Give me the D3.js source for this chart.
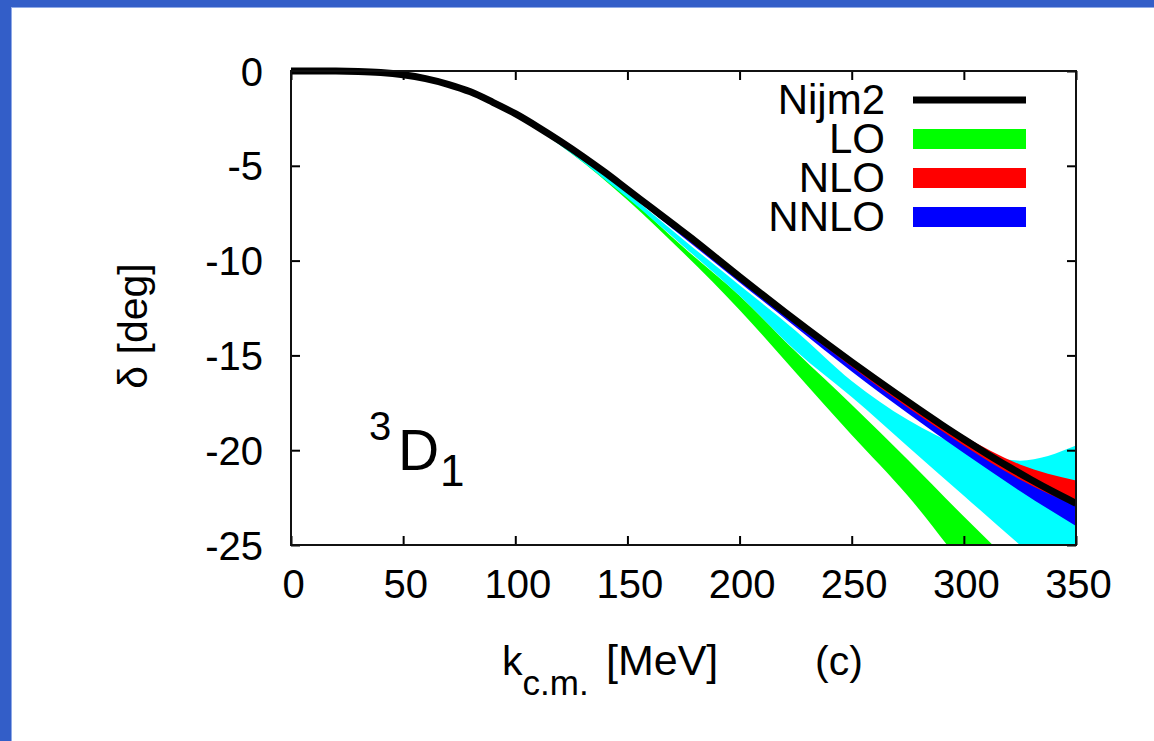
<!DOCTYPE html>
<html>
<head>
<meta charset="utf-8">
<script src="https://cdn.jsdelivr.net/npm/d3@7"></script>
<style>
  html, body { margin: 0; padding: 0; background: #fff; }
  svg { display: block; }
  text { font-family: "Liberation Sans", Arial, sans-serif; fill: #000; }
</style>
</head>
<body>
<svg id="chart" width="1154" height="741"></svg>
<script>
// Momentum grid (MeV) for the theory bands
const kBand = [0, 25, 50, 75, 100, 125, 150, 175, 200, 225, 250, 275, 300, 325, 350];

// LO band (deg)
const loLower = [0, 0, -0.22, -0.95, -2.35, -4.35, -6.8, -9.6, -12.6, -15.9, -19.2, -22.4, -26.1, -29.5, -32.9];
const loUpper = [0, 0, -0.2, -0.9, -2.28, -4.2, -6.6, -9.3, -11.85, -14.8, -17.6, -20.5, -23.5, -26.4, -29.3];

// Extra band (cyan)
const cyanLower = [0, 0, -0.22, -0.95, -2.35, -4.35, -6.7, -9.25, -11.85, -14.75, -17.2, -19.8, -22.4, -25.0, -27.6];
const cyanUpper = [0, 0, -0.2, -0.92, -2.3, -4.2, -6.45, -8.9, -11.3, -13.7, -16.35, -18.4, -19.85, -20.55, -19.75];

// NNLO band
const nnloLower = [0, 0, -0.22, -0.93, -2.33, -4.25, -6.42, -8.78, -11.15, -13.5, -15.85, -18.05, -20.15, -22.15, -24.0];
const nnloUpper = [0, 0, -0.2, -0.88, -2.25, -4.1, -6.25, -8.55, -10.9, -13.2, -15.4, -17.5, -19.5, -21.25, -22.9];

// NLO band
const nloLower = [0, 0, -0.22, -0.92, -2.3, -4.2, -6.35, -8.7, -11.05, -13.35, -15.6, -17.75, -19.75, -21.55, -22.95];
const nloUpper = [0, 0, -0.18, -0.85, -2.2, -4.05, -6.15, -8.45, -10.8, -13.05, -15.25, -17.3, -19.25, -20.75, -21.6];

// Nijm2 partial-wave analysis
const kNijm = [0, 10, 20, 30, 40, 50, 60, 70, 80, 90, 100, 110, 120, 130, 140, 150, 160, 170,
               180, 190, 200, 210, 220, 230, 240, 250, 260, 270, 280, 290, 300, 310, 320, 330, 340, 350];
const nijm2 = [0, 0, 0, -0.02, -0.08, -0.2, -0.4, -0.7, -1.1, -1.65, -2.25, -2.95, -3.7, -4.5, -5.35,
               -6.25, -7.15, -8.05, -8.95, -9.9, -10.85, -11.78, -12.7, -13.6, -14.48, -15.35, -16.2,
               -17.03, -17.85, -18.65, -19.42, -20.17, -20.88, -21.56, -22.2, -22.8];

// Axis ticks
const xTicks = [0, 50, 100, 150, 200, 250, 300, 350];
const yTicks = [0, -5, -10, -15, -20, -25];
const yTickLabels = ["0", "-5", "-10", "-15", "-20", "-25"];

// Legend entries
const legendNames = ["Nijm2", "LO", "NLO", "NNLO"];
const legendColors = ["#000000", "#00ff00", "#ff0000", "#0000ff"];

const svg = d3.select("#chart");

// Slide border
svg.append("rect").attr("x", 0).attr("y", 0).attr("width", 1154).attr("height", 741).attr("fill", "#fff");
svg.append("rect").attr("x", 0).attr("y", 0).attr("width", 11).attr("height", 741).attr("fill", "#335ec8");
svg.append("rect").attr("x", 0).attr("y", 0).attr("width", 1154).attr("height", 7).attr("fill", "#335ec8");
svg.append("rect").attr("x", 11).attr("y", 7).attr("width", 1).attr("height", 734).attr("fill", "#8fa9e6");
svg.append("rect").attr("x", 11).attr("y", 7).attr("width", 1143).attr("height", 1).attr("fill", "#8fa9e6");

const x = d3.scaleLinear().domain([0, 350]).range([291, 1076]);
const y = d3.scaleLinear().domain([-25, 0]).range([545, 71]);

svg.append("defs").append("clipPath").attr("id", "plotClip")
  .append("rect")
  .attr("x", x(0)).attr("y", y(0) - 6)
  .attr("width", x(350) - x(0)).attr("height", y(-25) - y(0) + 6);

const plot = svg.append("g").attr("clip-path", "url(#plotClip)");

function band(lower, upper) {
  return kBand.map((k, i) => ({ k, lo: lower[i], hi: upper[i] }));
}
const area = d3.area()
  .x(d => x(d.k))
  .y0(d => y(d.lo))
  .y1(d => y(d.hi))
  .curve(d3.curveMonotoneX);

const bands = [
  { data: band(loLower, loUpper), color: "#00ff00" },
  { data: band(cyanLower, cyanUpper), color: "#00ffff" },
  { data: band(nnloLower, nnloUpper), color: "#0000ff" },
  { data: band(nloLower, nloUpper), color: "#ff0000" }
];
plot.selectAll("path.band").data(bands).join("path")
  .attr("class", "band")
  .attr("d", d => area(d.data))
  .attr("fill", d => d.color)
  .attr("stroke", "none");

const line = d3.line()
  .x(d => x(d.k))
  .y(d => y(d.v))
  .curve(d3.curveMonotoneX);
plot.append("path")
  .attr("d", line(kNijm.map((k, i) => ({ k, v: nijm2[i] }))))
  .attr("fill", "none")
  .attr("stroke", "#000")
  .attr("stroke-width", 7);

// Axes with inward ticks on all four sides
const tick = 9;
const gB = svg.append("g").attr("transform", `translate(0,${y(-25)})`)
  .call(d3.axisBottom(x).tickValues(xTicks).tickSize(-tick).tickPadding(0).tickFormat(d3.format("d")));
gB.selectAll("text").attr("y", 53).attr("dy", null).attr("dx", 2)
  .style("font-size", "40px").style("font-family", "'Liberation Sans', Arial, sans-serif");

const gT = svg.append("g").attr("transform", `translate(0,${y(0)})`)
  .call(d3.axisTop(x).tickValues(xTicks).tickSize(-tick).tickFormat(() => ""));

const gL = svg.append("g").attr("transform", `translate(${x(0)},0)`)
  .call(d3.axisLeft(y).tickValues(yTicks).tickSize(-tick).tickPadding(0)
    .tickFormat((d, i) => yTickLabels[i]));
gL.selectAll("text").attr("x", -28).attr("dy", "14")
  .style("font-size", "40px").style("font-family", "'Liberation Sans', Arial, sans-serif");

const gR = svg.append("g").attr("transform", `translate(${x(350)},0)`)
  .call(d3.axisRight(y).tickValues(yTicks).tickSize(-tick).tickFormat(() => ""));

[gB, gT, gL, gR].forEach(g => {
  g.select(".domain").remove();
  g.selectAll(".tick line").attr("stroke", "#000").attr("stroke-width", 2);
});

// Frame
svg.append("rect")
  .attr("x", x(0)).attr("y", y(0))
  .attr("width", x(350) - x(0)).attr("height", y(-25) - y(0))
  .attr("fill", "none").attr("stroke", "#111").attr("stroke-width", 2);

// Axis titles
const xt = svg.append("text").attr("x", 502).attr("y", 675).style("font-size", "41px");
xt.append("tspan").text("k");
xt.append("tspan").attr("dy", 20).style("font-size", "35px").text("c.m.");
svg.append("text").attr("x", 606).attr("y", 675).style("font-size", "43px").text("[MeV]");
svg.append("text").attr("x", 815).attr("y", 675).style("font-size", "41px").text("(c)");

svg.append("text")
  .attr("transform", "translate(147,326) rotate(-90)")
  .attr("text-anchor", "middle")
  .style("font-size", "41px")
  .text("δ [deg]");

// Partial-wave label
svg.append("text").attr("x", 369).attr("y", 440).style("font-size", "40px").text("3");
svg.append("text").attr("x", 398).attr("y", 470).style("font-size", "57px").text("D");
svg.append("text").attr("x", 440).attr("y", 486).style("font-size", "44px").text("1");

// Legend
const lg = svg.append("g");
const rowY = i => 100 + i * 39;
lg.selectAll("text").data(legendNames).join("text")
  .attr("x", 885).attr("y", (d, i) => rowY(i) + 14)
  .attr("text-anchor", "end")
  .style("font-size", "42px")
  .text(d => d);
lg.append("line")
  .attr("x1", 913).attr("x2", 1026).attr("y1", rowY(0)).attr("y2", rowY(0))
  .attr("stroke", legendColors[0]).attr("stroke-width", 7);
lg.selectAll("rect").data(legendColors.slice(1)).join("rect")
  .attr("x", 913).attr("width", 113)
  .attr("y", (d, i) => rowY(i + 1) - 10).attr("height", 20)
  .attr("fill", d => d);
</script>
</body>
</html>
